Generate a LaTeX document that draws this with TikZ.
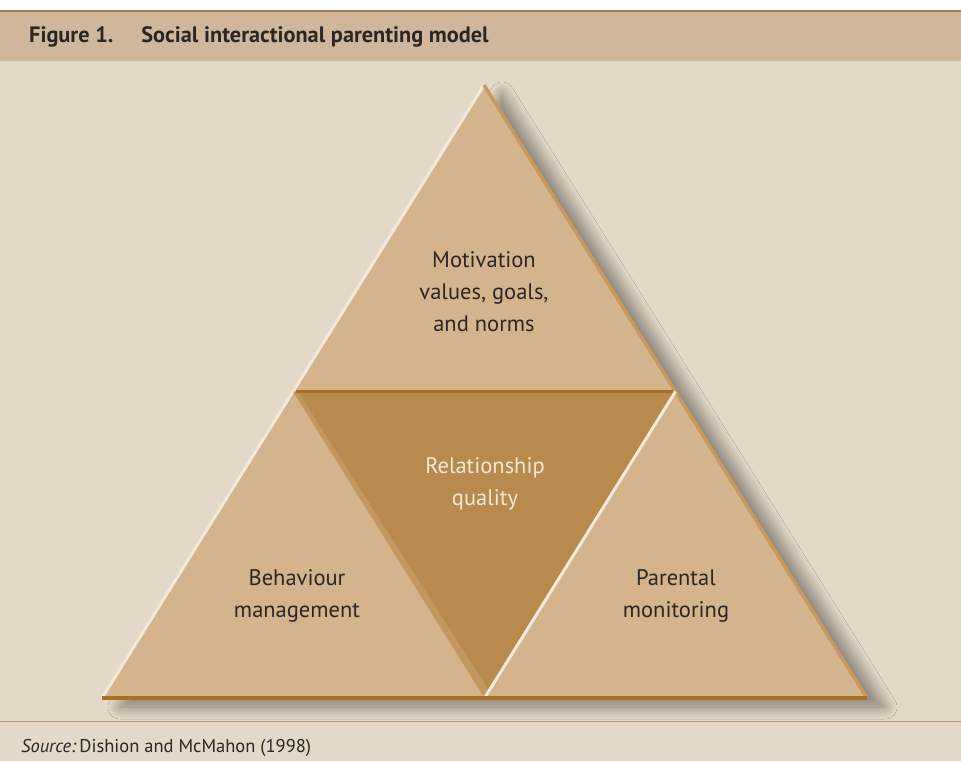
\documentclass[tikz,border=0pt]{standalone}
\usepackage{fontspec}
\setmainfont{PT Sans}
\usetikzlibrary{shadows.blur}

\definecolor{barfill}{HTML}{D0B79B}
\definecolor{barline}{HTML}{A87C48}
\definecolor{panel}{HTML}{E4D9C9}
\definecolor{rule}{HTML}{B9977A}
\definecolor{trifill}{HTML}{D4B48C}
\definecolor{invfill}{HTML}{B88A4E}
\definecolor{invbevel}{HTML}{C29860}
\definecolor{edgedark}{HTML}{A8701F}
\definecolor{edgelight}{HTML}{F3E9D8}
\definecolor{edgeside}{HTML}{C9985A}
\definecolor{ink}{HTML}{2A2624}

\tikzset{
  lbl/.style={font=\fontsize{22.5}{32}\selectfont, text=ink, align=center, inner sep=0pt},
  lblw/.style={lbl, text=edgelight},
}

\begin{document}
\begin{tikzpicture}[x=1pt, y=-1pt]
  \useasboundingbox (0,0) rectangle (961,761);
  % page, panel and title bar
  \fill[white] (0,0) rectangle (961,761);
  \fill[panel] (0,10) rectangle (961,761);
  \fill[barfill] (0,10) rectangle (961,61);
  \draw[barline, line width=1.5pt] (0,10.75) -- (961,10.75);
  \draw[rule, line width=1pt] (0,721) -- (961,721);

  \node[anchor=base west, inner sep=0pt, text=ink, font=\fontsize{22.3}{26}\selectfont\bfseries]
    (title) at (29,42) {Figure 1.\hspace{28pt}Social interactional parenting model};
  \node[anchor=base west, inner sep=0pt, text=ink, font=\fontsize{18.5}{22}\selectfont]
    (source) at (21,752) {\textit{Source:}\,Dishion and McMahon (1998)};

  % corners of the outer triangle and the inner (inverted) triangle
  \coordinate (A) at (484,85);
  \coordinate (B) at (102,698);
  \coordinate (C) at (867,698);
  \coordinate (P) at (293,391.5);
  \coordinate (Q) at (675.5,391.5);
  \coordinate (R) at (484.5,698);

  % outer triangle with soft drop shadow
  \path[fill=trifill, blur shadow={shadow xshift=18pt, shadow yshift=-9pt,
        shadow blur radius=12pt, shadow opacity=42, shadow blur steps=20}]
    (A) -- (B) -- (C) -- cycle;
  \draw[edgelight, line width=3pt, line cap=round] (A) -- (B);
  \draw[edgeside, line width=3.5pt] (A) -- (C);

  % inverted centre triangle with bevelled edges
  \fill[invbevel] (P) -- (Q) -- (R) -- cycle;
  \fill[invfill] (299,393) -- (Q) -- (489,690.5) -- cycle;
  \draw[edgelight, line width=3pt] (Q) -- (R);
  \draw[edgedark, line width=3pt] (296,391.5) -- (672.5,391.5);
  \draw[edgedark, line width=3.5pt] (B) -- (C);

  % labels
  \node[lbl] (motiv) at (484,292) {Motivation\\values, goals,\\and norms};
  \node[lblw] (relq) at (485,484) {Relationship\\quality};
  \node[lbl] (behav) at (297,596) {Behaviour\\management};
  \node[lbl] (monit) at (676,596) {Parental\\monitoring};
\end{tikzpicture}
\end{document}
